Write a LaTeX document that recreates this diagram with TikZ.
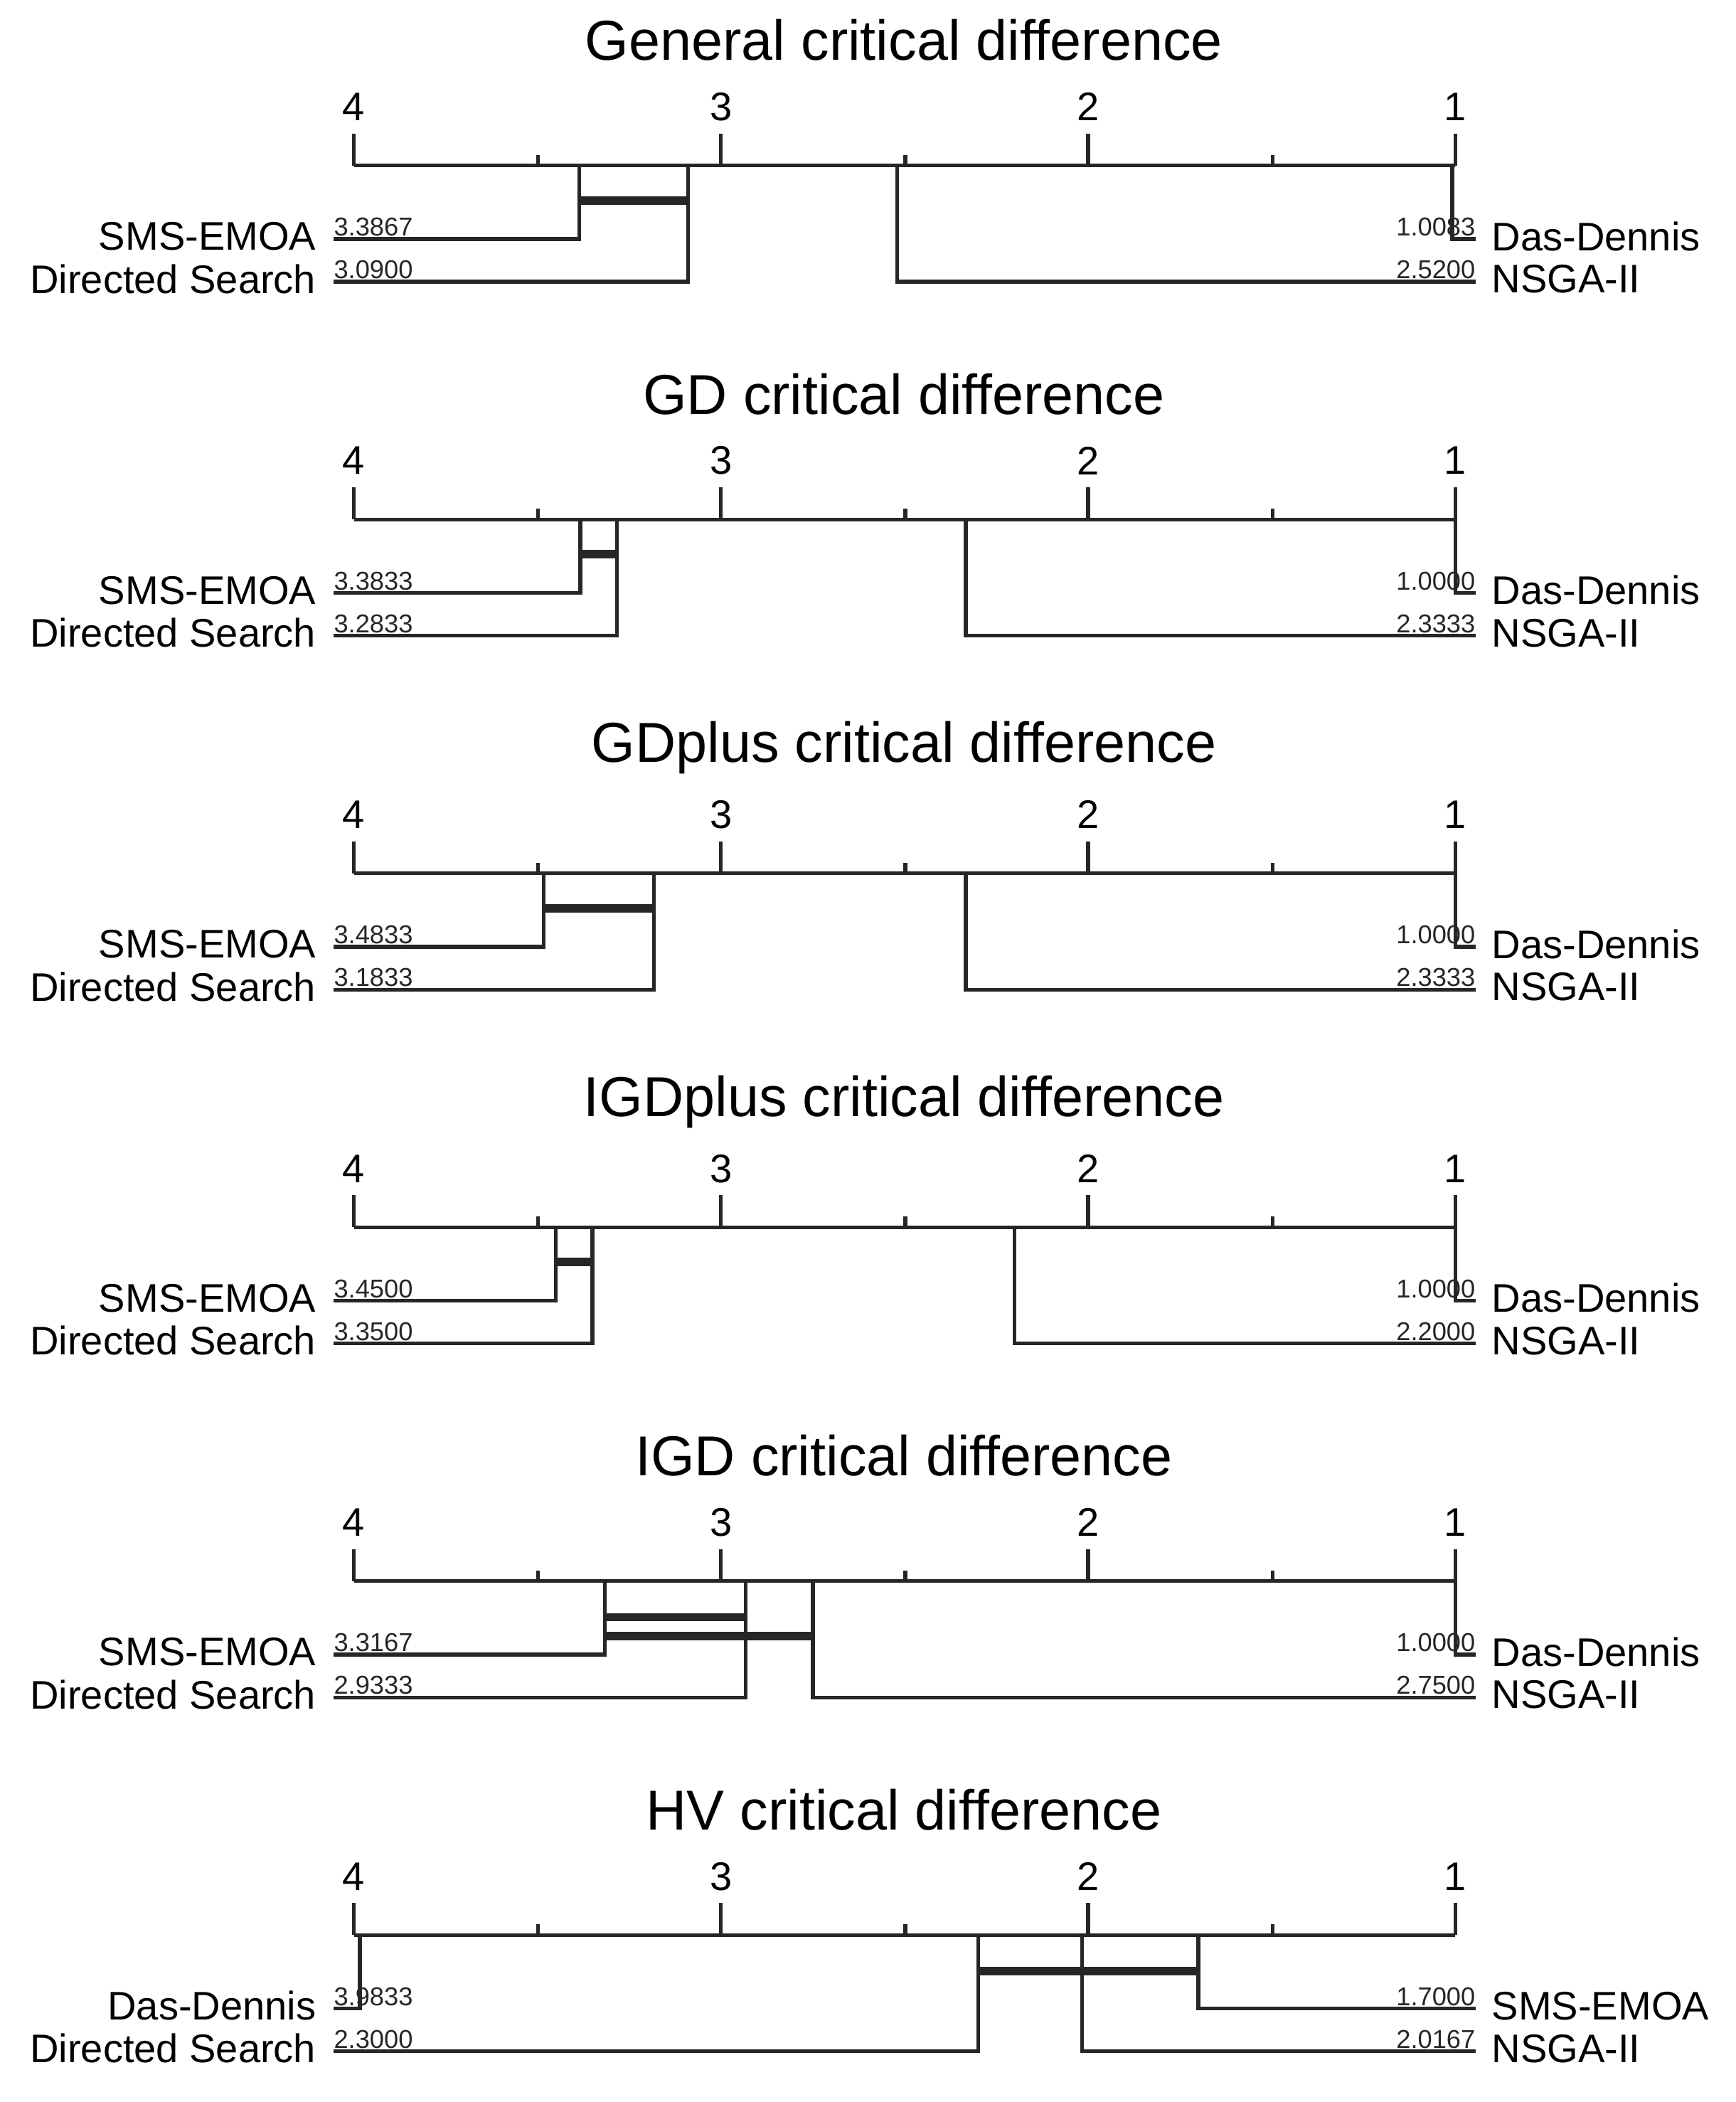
\documentclass[tikz,border=0pt]{standalone}
\usepackage{fontspec}
\setmainfont{Liberation Sans}
\begin{document}
\begin{tikzpicture}[x=0.02cm,y=-0.02cm,
  ln/.style={line width=1.6pt,color=black!85},
  cdbar/.style={line width=3.6pt,color=black!85},
  ttl/.style={font=\fontsize{24}{28}\selectfont,inner sep=0},
  nm/.style={font=\fontsize{17}{20}\selectfont,inner sep=0},
  tk/.style={font=\fontsize{17}{20}\selectfont,inner sep=0},
  vl/.style={font=\fontsize{11}{13}\selectfont,inner sep=1pt,color=black!85}]
\useasboundingbox (0,0) rectangle (1300,1574);
\newcommand\cdAxis[2]{%
  \node[ttl] at (677,{#1-94}) {#2};
  \draw[ln] (265,#1) -- (1090,#1);
  \foreach \r/\x in {4/265,3/540,2/815,1/1090}{
    \draw[ln] (\x,#1) -- (\x,{#1-24});
    \node[tk] at (\x,{#1-44}) {\r};}
  \foreach \x in {403,678,953}{\draw[ln] (\x,#1) -- (\x,{#1-8});}
}
\newcommand\cdL[4]{% axisY, lineY, rank, name
  \draw[ln] (250,#2) -- ({265+(4-#3)*275},#2) -- ({265+(4-#3)*275},#1);
  \node[nm,anchor=east] at (237,{#2-2}) {#4};
  \node[vl,anchor=south west] at (248,#2) {#3};}
\newcommand\cdR[4]{%
  \draw[ln] (1105,#2) -- ({265+(4-#3)*275},#2) -- ({265+(4-#3)*275},#1);
  \node[nm,anchor=west] at (1117,{#2-2}) {#4};
  \node[vl,anchor=south east] at (1107,#2) {#3};}
\newcommand\cdBar[3]{\draw[cdbar] ({265+(4-#2)*275},#1) -- ({265+(4-#3)*275},#1);}
% panel 1
\def\Y{124}
\cdAxis{\Y}{General critical difference}
\cdL{\Y}{179}{3.3867}{SMS-EMOA}
\cdL{\Y}{211}{3.0900}{Directed Search}
\cdR{\Y}{179}{1.0083}{Das-Dennis}
\cdR{\Y}{211}{2.5200}{NSGA-II}
\cdBar{150}{3.3867}{3.0900}
% panel 2
\cdAxis{389}{GD critical difference}
\cdL{389}{444}{3.3833}{SMS-EMOA}
\cdL{389}{476}{3.2833}{Directed Search}
\cdR{389}{444}{1.0000}{Das-Dennis}
\cdR{389}{476}{2.3333}{NSGA-II}
\cdBar{415}{3.3833}{3.2833}
% panel 3
\cdAxis{654}{GDplus critical difference}
\cdL{654}{709}{3.4833}{SMS-EMOA}
\cdL{654}{741}{3.1833}{Directed Search}
\cdR{654}{709}{1.0000}{Das-Dennis}
\cdR{654}{741}{2.3333}{NSGA-II}
\cdBar{680}{3.4833}{3.1833}
% panel 4
\cdAxis{919}{IGDplus critical difference}
\cdL{919}{974}{3.4500}{SMS-EMOA}
\cdL{919}{1006}{3.3500}{Directed Search}
\cdR{919}{974}{1.0000}{Das-Dennis}
\cdR{919}{1006}{2.2000}{NSGA-II}
\cdBar{945}{3.4500}{3.3500}
% panel 5
\cdAxis{1184}{IGD critical difference}
\cdL{1184}{1239}{3.3167}{SMS-EMOA}
\cdL{1184}{1271}{2.9333}{Directed Search}
\cdR{1184}{1239}{1.0000}{Das-Dennis}
\cdR{1184}{1271}{2.7500}{NSGA-II}
\cdBar{1211}{3.3167}{2.9333}
\cdBar{1225}{3.3167}{2.7500}
% panel 6
\cdAxis{1449}{HV critical difference}
\cdL{1449}{1504}{3.9833}{Das-Dennis}
\cdL{1449}{1536}{2.3000}{Directed Search}
\cdR{1449}{1504}{1.7000}{SMS-EMOA}
\cdR{1449}{1536}{2.0167}{NSGA-II}
\cdBar{1476}{2.3000}{1.7000}
\end{tikzpicture}
\end{document}
